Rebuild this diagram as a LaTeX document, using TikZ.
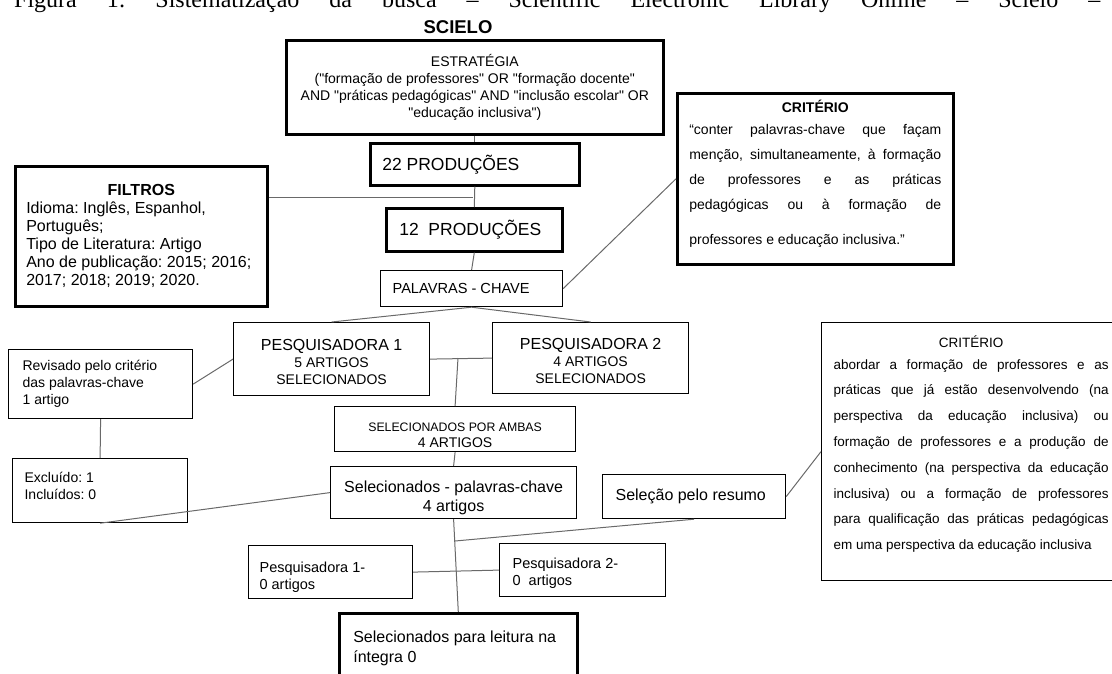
\documentclass[tikz,border=0pt]{standalone}
\usepackage{fontspec}
\setmainfont{Liberation Sans}
\newfontfamily\capfont{Liberation Serif}
\definecolor{linha}{RGB}{105,105,105}
\newcommand{\tam}[2]{\fontsize{#1}{#2}\selectfont\frenchspacing}
\newcommand{\jl}[1]{\makebox[\hsize][s]{#1}\\}
\newcommand{\q}{\textquotedbl}
\tikzset{
  caixa/.style={draw, line width=1.2pt, anchor=north west, inner sep=0pt},
  grossa/.style={caixa, line width=2.6pt},
  liga/.style={draw=linha, line width=1pt},
}
\begin{document}
\begin{tikzpicture}[x=1pt,y=-1pt]
\useasboundingbox (0,0) rectangle (1112,673);
\clip (0,0) rectangle (1112,673);
% legenda e titulo
\node[anchor=base west, inner sep=0pt, font=\capfont\tam{24}{28}] (legenda) at (14,7)
  {\makebox[1086pt][s]{Figura 1: Sistematização da busca – Scientific Electronic Library Online – Scielo –}};
\node[font=\bfseries\tam{18.5}{22}] (titulo) at (458,27) {SCIELO};
% busca
\node[grossa, minimum width=377pt, minimum height=94pt, text width=377pt, align=flush center, font=\tam{14}{17}] (estrategia) at (285,39)
  {ESTRATÉGIA\\(\q formação de professores\q\ OR \q formação docente\q\\AND \q práticas pedagógicas\q\ AND \q inclusão escolar\q\ OR\\\q educação inclusiva\q)};
\node[grossa, minimum width=209pt, minimum height=42pt, inner xsep=12pt, text width=185pt, align=flush left, font=\tam{17.5}{20}] (prod22) at (369,142) {22 PRODUÇÕES};
\node[grossa, minimum width=252pt, minimum height=140pt, inner xsep=11pt, text width=230pt, align=flush left, font=\tam{16}{18}] (filtros) at (14,165)
  {\makebox[\hsize]{\bfseries FILTROS}\\Idioma: Inglês, Espanhol,\\Português;\\Tipo de Literatura: Artigo\\Ano de publicação: 2015; 2016;\\2017; 2018; 2019; 2020.};
\node[grossa, minimum width=176pt, minimum height=43pt, inner xsep=13pt, text width=150pt, align=flush left, font=\tam{17.5}{20}] (prod12) at (385,207) {12\ \ PRODUÇÕES};
\node[caixa, minimum width=182pt, minimum height=36pt, inner xsep=12pt, text width=158pt, align=flush left, font=\tam{14.6}{18}] (palavras) at (380,270) {PALAVRAS - CHAVE};
\node[grossa, minimum width=276pt, minimum height=171pt, inner xsep=12pt, text width=252pt, align=flush left, font=\tam{14}{25}] (criterio) at (676,92)
  {\makebox[\hsize]{\bfseries CRITÉRIO}\\[-3pt]
   \jl{“conter palavras-chave que façam}
   \jl{menção, simultaneamente, à formação}
   \jl{de professores e as práticas}
   \makebox[\hsize][s]{pedagógicas ou à formação de}\\[10pt]
   professores e educação inclusiva.”\\[-12pt]\mbox{}};
% pesquisadoras
\node[caixa, minimum width=196pt, minimum height=73pt, text width=196pt, align=flush center, font=\tam{14}{17}] (pesq1) at (233,322)
  {\mbox{}\\[0.5pt]{\tam{16}{17}PESQUISADORA 1}\\5 ARTIGOS\\SELECIONADOS};
\node[caixa, minimum width=196pt, minimum height=71pt, text width=196pt, align=flush center, font=\tam{14}{17}] (pesq2) at (492,322)
  {\mbox{}\\[0.5pt]{\tam{16}{17}PESQUISADORA 2}\\4 ARTIGOS\\SELECIONADOS};
\node[caixa, minimum width=184pt, minimum height=69pt, inner xsep=14pt, text width=156pt, align=flush left, font=\tam{14}{17}] (revisado) at (8,349)
  {Revisado pelo critério\\das palavras-chave\\1 artigo};
\node[caixa, minimum width=241pt, minimum height=45pt, text width=241pt, align=flush center, font=\tam{14}{16}] (ambas) at (334,406)
  {\mbox{}\\[5pt]{\tam{12.3}{16}SELECIONADOS POR AMBAS}\\4 ARTIGOS};
\node[caixa, minimum width=175pt, minimum height=64pt, inner xsep=12pt, text width=151pt, align=flush left, font=\tam{14}{17}] (excluido) at (12,458)
  {Excluído: 1\\Incluídos: 0\\[-8pt]\mbox{}};
\node[caixa, minimum width=246pt, minimum height=52pt, text width=246pt, align=flush center, font=\tam{16}{19}] (selpal) at (330,466)
  {\mbox{}\\[2.5pt]Selecionados - palavras-chave\\4 artigos};
\node[caixa, minimum width=183pt, minimum height=44pt, inner xsep=13pt, text width=157pt, align=flush left, font=\tam{16}{19}] (selres) at (602,474) {Seleção pelo resumo};
\node[caixa, minimum width=299pt, minimum height=258pt, inner xsep=12pt, text width=275pt, align=flush left, font=\tam{13.5}{25.8}] (criterio2) at (821,322)
  {\makebox[\hsize]{CRITÉRIO}\\[-3.8pt]
   \jl{abordar a formação de professores e as}
   \jl{práticas que já estão desenvolvendo (na}
   \jl{perspectiva da educação inclusiva) ou}
   \jl{formação de professores e a produção de}
   \jl{conhecimento (na perspectiva da educação}
   \jl{inclusiva) ou a formação de professores}
   \jl{para qualificação das práticas pedagógicas}
   em uma perspectiva da educação inclusiva\\[-7.8pt]\mbox{}};
% resultado
\node[caixa, minimum width=164pt, minimum height=53pt, inner xsep=11pt, text width=142pt, align=flush left, font=\tam{14.5}{17}] (pesqz1) at (248,545)
  {\mbox{}\\[3.5pt]Pesquisadora 1-\\0 artigos};
\node[caixa, minimum width=166pt, minimum height=53pt, inner xsep=13pt, text width=140pt, align=flush left, font=\tam{14.5}{17}] (pesqz2) at (499,543)
  {\mbox{}\\[-0.5pt]Pesquisadora 2-\\0\ \ artigos};
\node[grossa, minimum width=238pt, minimum height=70pt, inner xsep=14pt, text width=210pt, align=flush left, font=\tam{16}{20}] (leitura) at (338,612)
  {Selecionados para leitura na\\íntegra 0};
% ligacoes
\coordinate (jf) at (473,197);
\coordinate (jp) at (458,358);
\coordinate (jr) at (455,541);
\draw[liga] (estrategia.south) -- (prod22.north);
\draw[liga] (prod22.south) -- (prod12.north);
\draw[liga] (filtros.east |- jf) -- (jf);
\draw[liga] (prod12.south) -- (palavras.north);
\draw[liga] (criterio.west) -- (palavras.east);
\draw[liga] (palavras.south) -- (pesq1.north);
\draw[liga] (palavras.south) -- (pesq2.north);
\draw[liga] (pesq1.east) -- (pesq2.west);
\draw[liga] (jp) -- (ambas.north);
\draw[liga] (revisado.east) -- (pesq1.west);
\draw[liga] (revisado.south) -- (excluido.north);
\draw[liga] (ambas.south) -- (selpal.north);
\draw[liga] (selpal.west) -- (excluido.south);
\draw[liga] (selres.east) -- (criterio2.west);
\draw[liga] (selpal.south) -- (leitura.north);
\draw[liga] (selres.south) -- (jr);
\draw[liga] (pesqz1.east) -- (pesqz2.west);
\end{tikzpicture}
\end{document}
